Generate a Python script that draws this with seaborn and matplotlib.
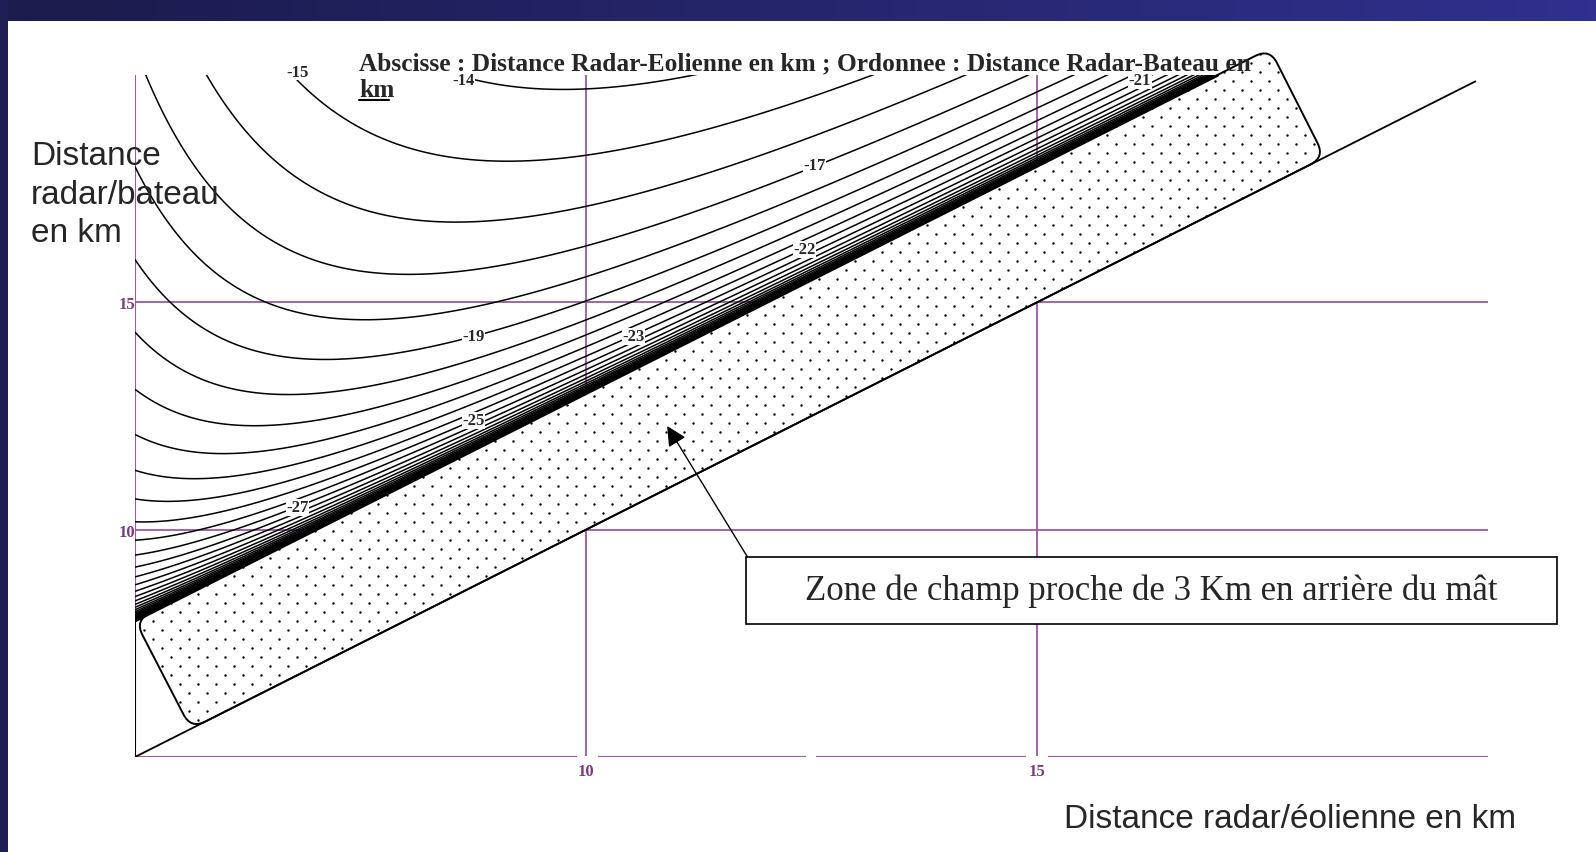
import numpy as np
import matplotlib
matplotlib.use("Agg")
import matplotlib.pyplot as plt
import seaborn as sns
from matplotlib.path import Path
from matplotlib.patches import PathPatch, Rectangle
from matplotlib.transforms import IdentityTransform
from matplotlib.lines import Line2D
from matplotlib.colors import LinearSegmentedColormap

sns.set_theme(style="white")
plt.rcParams["font.family"] = ["Liberation Sans", "DejaVu Sans"]

W, H = 1596, 853

# ---- data -------------------------------------------------------------
# points on the iso-level curves (x: radar-turbine km, y: radar-ship km, level dB)
anchor_level = [-14, -14, -14,
                -15, -15, -15, -15, -15,
                -16, -16, -16,
                -17, -17, -17, -17,
                -18, -18, -18,
                -19, -19,
                -20, -20,
                -21, -21,
                -22, -22,
                -23, -23,
                -24,
                -25, -25,
                -27]
anchor_x = [8.82, 10.0, 11.37,
            6.9, 8.27, 8.9, 10.0, 12.37,
            5.91, 7.94, 10.0,
            5.24, 8.27, 10.0, 12.53,
            5.0, 7.94, 10.0,
            5.0, 8.75,
            5.0, 6.61,
            5.0, 16.14,
            5.0, 12.42,
            5.0, 10.53,
            5.0,
            5.0, 8.75,
            6.8]
anchor_y = [19.91, 19.65, 19.98,
            20.0, 18.1, 17.99, 18.13, 19.47,
            20.0, 16.59, 17.07,
            20.0, 15.44, 16.25, 18.03,
            17.92, 14.71, 15.63,
            15.6, 14.25,
            13.96, 13.56,
            12.79, 19.89,
            11.95, 16.17,
            11.3, 14.25,
            10.75,
            10.31, 12.41,
            10.49]

contour_levels = list(range(-50, -13))          # 1 dB steps

# inline level labels
label_level = [-15, -14, -21, -17, -22, -19, -23, -25, -27]
label_x = [6.80, 8.64, 16.14, 12.53, 12.42, 8.75, 10.53, 8.75, 6.80]
label_y = [20.07, 19.88, 19.89, 18.03, 16.17, 14.25, 14.25, 12.41, 10.49]

near_field_km = 3.0
grid_km = [10, 15]

# near-field zone outline (rotated rectangle corners)
zone_x = [5.0, 5.62, 18.19, 17.58]
zone_y = [8.0, 5.62, 18.19, 20.58]

# ---- figure -------------------------------------------------------------
fig = plt.figure(figsize=(W / 100, H / 100), dpi=100)
fig.patch.set_facecolor("white")

# navy frame: top banner with gradient and left border
hax = fig.add_axes([0, 1 - 22 / H, 1, 22 / H])
hax.axis("off")
hax.imshow(np.linspace(0, 1, 256)[None, :], aspect="auto",
           cmap=LinearSegmentedColormap.from_list("hdr", ["#1b1b4c", "#30308e"]),
           extent=[0, 1, 0, 1])
fig.add_artist(Rectangle((0, 0), 8 / W, 1, transform=fig.transFigure,
                         fc="#1f1f55", ec="none"))

ax = fig.add_axes([135 / W, (H - 758) / H, (1488 - 135) / W, (758 - 76) / H])
ax.set_xlim(5, 20)
ax.set_ylim(5, 20)
ax.set_facecolor("none")
for s in ax.spines.values():
    s.set_visible(False)

PURPLE = "#9a5aa0"
TICK_PURPLE = "#7a3a82"

ax.set_xticks(grid_km)
ax.set_yticks(grid_km)
ax.tick_params(length=0, pad=4, labelcolor=TICK_PURPLE)
for t in ax.get_xticklabels() + ax.get_yticklabels():
    t.set_fontfamily("Liberation Serif")
    t.set_fontweight("bold")
    t.set_fontsize(12)
ax.tick_params(axis="y", pad=0.0)

# grid lines
ax.vlines(grid_km, 5.03, 20, color=PURPLE, lw=1.3, zorder=1)
ax.hlines(grid_km, 5, 20, color=PURPLE, lw=1.3, zorder=1)
# axis lines (bottom one broken around its labels)
for a, b in [(5, 9.9), (10.13, 12.44), (12.55, 14.88), (15.12, 20)]:
    ax.plot([a, b], [5, 5], color=PURPLE, lw=1.5, solid_capstyle="butt", zorder=1)
ax.plot([5, 5], [5 + near_field_km, 20], color=PURPLE, lw=1.5, zorder=1)


# smooth level field fitted through the curve points
def basis(x, y):
    lu = np.log10(y - x - near_field_km)
    lx = np.log10(x)
    ly = np.log10(y)
    return np.stack([np.ones_like(x), lu, lx, ly, lu * lx, lx ** 2], axis=-1)


coef, *_ = np.linalg.lstsq(basis(np.array(anchor_x), np.array(anchor_y)),
                           np.array(anchor_level, float), rcond=None)

gx = np.linspace(5, 17.2, 500)
gu = np.geomspace(1e-3, 16, 700)
GX, GU = np.meshgrid(gx, gu)
GY = GX + near_field_km + GU
Z = basis(GX, GY) @ coef
ax.contour(GX, GY, Z, levels=contour_levels, colors="black", linewidths=1.1,
           linestyles="solid", zorder=3)

# zone boundaries
sns.lineplot(x=[5, 19.86], y=[5, 19.86], color="black", lw=1.3, ax=ax, zorder=3)
sns.lineplot(x=[5, 20 - near_field_km], y=[5 + near_field_km, 20], color="black",
             lw=2.6, ax=ax, zorder=3)
ax.plot([5, 5], [5, 5 + near_field_km], color="black", lw=1.5, zorder=3)

# rounded, dotted near-field zone
P = ax.transData.transform(np.column_stack([zone_x, zone_y]))
r = 16.0
verts, codes = [], []
n = len(P)
for i in range(n):
    A, C, B = P[i - 1], P[i], P[(i + 1) % n]
    p1 = C + r * (A - C) / np.linalg.norm(A - C)
    p2 = C + r * (B - C) / np.linalg.norm(B - C)
    verts += [p1, C, p2]
    codes += [Path.MOVETO if i == 0 else Path.LINETO, Path.CURVE3, Path.CURVE3]
verts.append(verts[0])
codes.append(Path.CLOSEPOLY)
zone = PathPatch(Path(verts, codes), transform=IdentityTransform(), fc="white",
                 ec="black", lw=1.4, zorder=2, clip_on=False)
ax.add_patch(zone)

xmin, ymin = P.min(axis=0)
xmax, ymax = P.max(axis=0)
pts = []
for j, py in enumerate(np.arange(ymin, ymax, 9.0)):
    off = 0 if j % 2 == 0 else 9.0
    for px in np.arange(xmin + off, xmax, 18.0):
        pts.append((px, py))
pts = ax.transData.inverted().transform(np.array(pts))
dots = ax.scatter(pts[:, 0], pts[:, 1], s=3, c="black", linewidths=0, zorder=2.5)
dots.set_clip_path(zone)
dots.set_clip_box(None)

# level labels
for lev, lx, ly in zip(label_level, label_x, label_y):
    ax.text(lx, ly, f"{lev}", ha="center", va="center", fontsize=12,
            fontweight="bold", family="Liberation Serif", zorder=4,
            bbox=dict(fc="white", ec="none", pad=0.4), clip_on=False)

# caption box with arrow
ax.add_patch(Rectangle((11.77, 7.92), 20.76 - 11.77, 9.40 - 7.92, fc="white",
                       ec="black", lw=1.2, zorder=5, clip_on=False))
ax.text(16.27, 8.66, "Zone de champ proche de 3 Km en arrière du mât", ha="center",
        va="center", fontsize=25, family="Liberation Serif", zorder=6)
ax.annotate("", xy=(10.9, 12.28), xytext=(11.79, 9.40),
            arrowprops=dict(arrowstyle="-|>", color="black", lw=1.0,
                            mutation_scale=30, shrinkA=0, shrinkB=0), zorder=6)

# texts
fig.text(359 / W, 1 - 70 / H,
         "Abscisse : Distance Radar-Eolienne en km ; Ordonnee : Distance Radar-Bateau en",
         fontsize=18.3, fontweight="bold", family="Liberation Serif", va="baseline")
fig.text(359 / W, 1 - 97 / H, "km", fontsize=18.3, fontweight="bold",
         family="Liberation Serif", va="baseline")
fig.add_artist(Line2D([359 / W, 389 / W], [1 - 101 / H, 1 - 101 / H], color="black",
                      lw=1.5, transform=fig.transFigure))
for txt, base in [("Distance", 165), ("radar/bateau", 204), ("en km", 242)]:
    fig.text(31 / W, 1 - base / H, txt, fontsize=24, va="baseline")
fig.text(1064 / W, 1 - 828 / H, "Distance radar/éolienne en km", fontsize=24,
         va="baseline")

fig.savefig("out.png", dpi=100)
